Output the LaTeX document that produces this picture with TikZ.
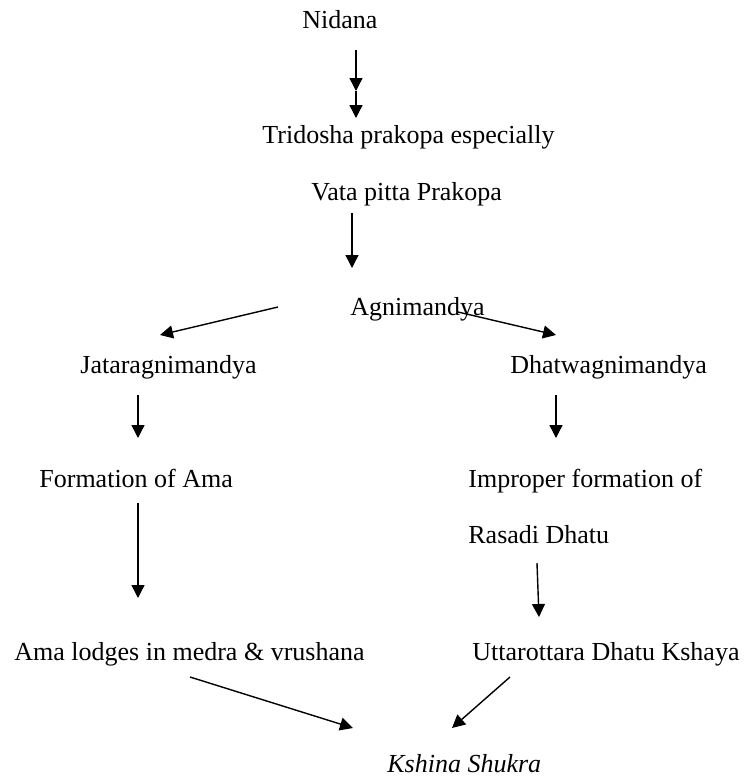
\documentclass[tikz,border=0pt]{standalone}
\usepackage{fontspec}
\setmainfont{Liberation Serif}
\usetikzlibrary{arrows.meta}

\begin{document}
\begin{tikzpicture}[
  % one unit = one pixel of the 744 x 778 page, y running downwards
  x=0.5pt, y=-0.5pt,
  lbl/.style={anchor=base west, inner sep=0pt,
    font=\fontsize{13}{15.6}\selectfont},
  arr/.style={-{Triangle[length=6.5pt,width=6.5pt]}, line width=0.7pt},
]
\useasboundingbox (0,0) rectangle (744,778);

%% ── Top chain ─────────────────────────────────────────────────────────────
\node[lbl] (nidana)   at (302,28)  {Nidana};
\node[lbl] (tridosha) at (262,143) {Tridosha prakopa especially};
\node[lbl] (vata)     at (311,200) {Vata pitta Prakopa};
\node[lbl] (agni)     at (350,315) {Agnimandya};

%% ── Left branch ───────────────────────────────────────────────────────────
\node[lbl] (jatara)   at (80,373)  {Jataragnimandya};
\node[lbl] (amaform)  at (39,487)  {Formation of Ama};
\node[lbl] (amalodge) at (14,660)  {Ama lodges in medra \& vrushana};

%% ── Right branch ──────────────────────────────────────────────────────────
\node[lbl] (dhatwa)   at (510,373) {Dhatwagnimandya};
\node[lbl] (improper) at (468,487) {Improper formation of};
\node[lbl] (rasadi)   at (468,543) {Rasadi Dhatu};
\node[lbl] (kshaya)   at (472,660) {Uttarottara Dhatu Kshaya};

%% ── Result ────────────────────────────────────────────────────────────────
\node[lbl, font=\fontsize{13}{15.6}\selectfont\itshape] (shukra) at (387,772) {Kshina Shukra};

%% ── Arrow ends (free-standing, as in the original sketch) ─────────────────
\coordinate (nid-a)  at (356,50);
\coordinate (nid-b)  at (356,91);
\coordinate (nid-c)  at (356,118);
\coordinate (vata-a) at (352,213);
\coordinate (vata-b) at (352,268);
\coordinate (agl-a)  at (278,307);
\coordinate (agl-b)  at (160,335);
\coordinate (agr-a)  at (458,312);
\coordinate (agr-b)  at (556,335);
\coordinate (jat-a)  at (138,395);
\coordinate (jat-b)  at (138,438);
\coordinate (dha-a)  at (556,395);
\coordinate (dha-b)  at (556,438);
\coordinate (ama-a)  at (138,503);
\coordinate (ama-b)  at (138,598);
\coordinate (ras-a)  at (537,563);
\coordinate (ras-b)  at (539,617);
\coordinate (lod-a)  at (190,677);
\coordinate (lod-b)  at (353,728);
\coordinate (ksh-a)  at (510,677);
\coordinate (ksh-b)  at (452,728);

%% ── Arrows ────────────────────────────────────────────────────────────────
\draw[arr] (nid-a)  -- (nid-b);
\draw[arr] (nid-b)  -- (nid-c);
\draw[arr] (vata-a) -- (vata-b);
\draw[arr] (agl-a)  -- (agl-b);
\draw[arr] (agr-a)  -- (agr-b);
\draw[arr] (jat-a)  -- (jat-b);
\draw[arr] (dha-a)  -- (dha-b);
\draw[arr] (ama-a)  -- (ama-b);
\draw[arr] (ras-a)  -- (ras-b);
\draw[arr] (lod-a)  -- (lod-b);
\draw[arr] (ksh-a)  -- (ksh-b);

\end{tikzpicture}
\end{document}
